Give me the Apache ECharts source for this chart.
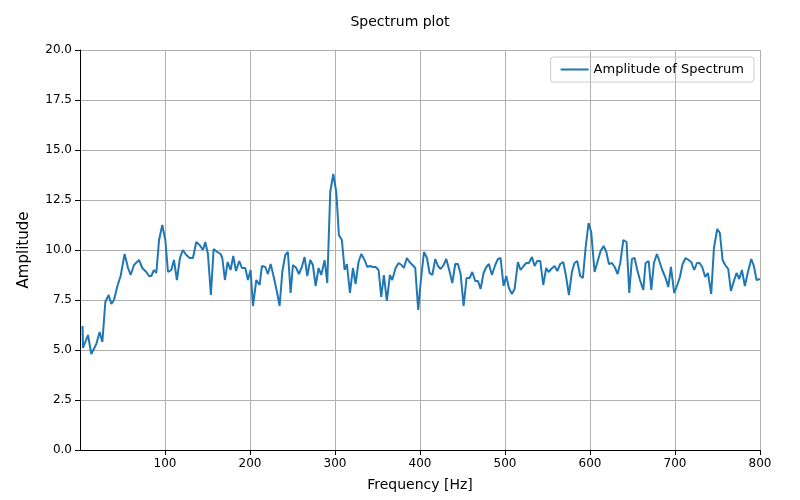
<!DOCTYPE html>
<html>
<head>
<meta charset="utf-8">
<script src="https://cdn.jsdelivr.net/npm/echarts@6/dist/echarts.min.js"></script>
<style>html,body{margin:0;padding:0;background:#fff}#main{width:800px;height:500px}</style>
</head>
<body>
<div id="main"></div>
<script>
// frequencies (Hz) and amplitudes
var freqs = [3,3.5,9.4,13.3,19.2,23.1,26.3,29.8,33.7,36.9,40,44,47.8,52.5,56.5,59.6,63.5,69.4,73.3,78,81.2,83.9,87,89.8,93,96.8,100.4,103.5,107.4,110.5,114,117.6,121,125,129,132.9,136.8,140.7,144.7,147.4,150.5,154,157.2,161.5,165.4,167.4,170.5,173.7,177.2,180.3,183.5,187.4,190.5,194.4,197.6,200.7,203.5,
  207.4,211.3,214,218,221,224.3,228.2,232,234.8,238,241.5,244.6,247.8,250.5,254.4,257.6,261,264.2,267.4,270.9,274,277.2,280.7,283.8,287.8,290.9,294.4,298,301.5,304.6,308.1,311.3,314,317.6,321.1,324.2,327.7,330.9,334.8,338,341,344.6,347.7,351.3,354.4,357.5,361,364.6,367.3,371.3,374.8,378.3,381,384.6,387.7,391.2,394.4,397.9,
  400.7,404.7,408.2,411.3,414.5,418,421.1,424.3,427.8,430.9,434.4,438,441.5,444.6,447.8,451.3,454.8,458.4,461.5,465,468.2,471.3,474.8,478,481.1,484.6,488.5,491.7,494.8,498.3,501.5,504.6,508.1,511.3,515.2,518.3,521.9,525,528.1,531.7,534.8,537.9,541.5,545,548.5,551.3,554.4,558.3,561.5,565,568.5,571.6,575.2,578.7,581.8,585,588.5,591.6,594.8,598.3,601.4,
  605.4,609.4,612.5,616,619.2,622.3,625.8,629,632.5,635.6,639.2,643,646.2,649.3,652.5,655.6,658.8,662.7,665.4,669,672.1,675.2,678.7,681.9,685,688.5,692.1,695.2,699.1,702.7,705.8,708.9,712.5,716,719.1,722.6,725.8,728.9,732,735.6,738.7,742.6,745.8,749.7,752.8,756,759.1,762.6,765.8,769.3,772.4,775.6,778.7,782.2,785.8,789.7,792.8,795.9,799.9];
var amps = [6.2,5.1,5.75,4.8,5.3,5.9,5.4,7.4,7.75,7.3,7.5,8.2,8.7,9.8,9.1,8.75,9.25,9.5,9.1,8.9,8.7,8.7,9.0,8.85,10.5,11.25,10.5,8.9,9.0,9.5,8.5,9.6,10.0,9.75,9.6,9.6,10.4,10.25,10.0,10.4,9.8,7.75,10.05,9.9,9.8,9.6,8.5,9.4,9.0,9.7,8.95,9.45,9.1,9.1,8.5,9.0,7.2,
  8.5,8.25,9.2,9.15,8.8,9.3,8.6,7.85,7.2,8.9,9.75,9.9,7.85,9.25,9.1,8.8,9.15,9.65,8.7,9.5,9.25,8.2,9.1,8.75,9.5,8.35,12.9,13.8,12.9,10.75,10.5,9.0,9.3,7.85,9.1,8.3,9.4,9.8,9.5,9.15,9.2,9.15,9.15,9.0,7.65,8.75,7.45,8.75,8.5,9.1,9.35,9.25,9.1,9.6,9.4,9.25,9.1,7.0,
  8.35,9.9,9.6,8.85,8.75,9.55,9.2,9.05,9.25,9.55,9.0,8.35,9.3,9.3,8.8,7.2,8.6,8.6,8.9,8.45,8.45,8.05,8.85,9.15,9.3,8.75,9.25,9.55,9.6,8.2,8.7,8.1,7.8,8.05,9.4,9.0,9.2,9.35,9.35,9.65,9.2,9.45,9.45,8.25,9.1,8.9,9.05,9.2,8.95,9.3,9.4,8.75,7.75,8.9,9.35,9.45,8.7,8.6,10.1,11.35,10.9,
  8.9,9.5,9.95,10.2,9.9,9.3,9.35,9.15,8.8,9.35,10.5,10.4,7.85,9.55,9.6,9.0,8.5,8.0,9.35,9.45,8.0,9.35,9.8,9.4,9.0,8.65,8.15,9.15,7.85,8.25,8.65,9.3,9.6,9.5,9.4,9.0,9.35,9.35,9.15,8.65,8.85,7.8,10.1,11.05,10.85,9.5,9.25,9.05,7.95,8.45,8.85,8.55,9.0,8.2,8.9,9.55,9.2,8.5,8.55];

var chart = echarts.init(document.getElementById('main'));
var pts = freqs.map(function (f, i) { return [f, amps[i]]; });
var font = 'DejaVu Sans';
var grid = {show: true, lineStyle: {color: '#b0b0b0', width: 1}};
chart.setOption({
  animation: false,
  textStyle: {fontFamily: font},
  title: {text: 'Spectrum plot', left: 'center', top: 10,
    textStyle: {fontSize: 14, fontWeight: 'normal', color: '#000', fontFamily: font}},
  legend: {top: 57, right: 46, padding: [6, 10], borderColor: '#ccc', borderWidth: 1, borderRadius: 3,
    itemWidth: 28, itemHeight: 2, icon: 'rect',
    textStyle: {fontSize: 13, color: '#000', fontFamily: font},
    data: ['Amplitude of Spectrum']},
  grid: {left: 80, right: 40, top: 50, bottom: 50},
  xAxis: {type: 'value', min: 0, max: 800, interval: 100,
    name: 'Frequency [Hz]', nameLocation: 'middle', nameGap: 28,
    nameTextStyle: {fontSize: 14, color: '#000', fontFamily: font},
    axisLine: {onZero: false, lineStyle: {color: '#000'}},
    axisTick: {show: true, lineStyle: {color: '#000'}},
    axisLabel: {showMinLabel: false, color: '#000', fontSize: 12, fontFamily: font},
    splitLine: grid},
  yAxis: {type: 'value', min: 0, max: 20, interval: 2.5,
    name: 'Amplitude', nameLocation: 'middle', nameGap: 48,
    nameTextStyle: {fontSize: 15, color: '#000', fontFamily: font},
    axisLine: {show: true, lineStyle: {color: '#000'}},
    axisTick: {show: true, lineStyle: {color: '#000'}},
    axisLabel: {color: '#000', fontSize: 12, fontFamily: font,
      formatter: function (v) { return v.toFixed(1); }},
    splitLine: grid},
  series: [{name: 'Amplitude of Spectrum', type: 'line', data: pts, showSymbol: false,
    lineStyle: {color: '#1f77b4', width: 2}, itemStyle: {color: '#1f77b4'}}]
});
</script>
</body>
</html>
